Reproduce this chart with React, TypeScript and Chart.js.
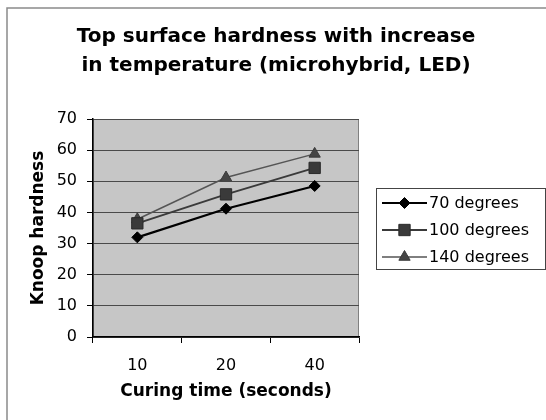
import React, { useEffect, useRef } from "react";
import { Chart, registerables } from "chart.js";
import { drawPoint } from "chart.js/helpers";

Chart.register(...registerables);

const titleLines = ["Top surface hardness with increase", "in temperature (microhybrid, LED)"];
const categories = ["10", "20", "40"];
const yTicks = [0, 10, 20, 30, 40, 50, 60, 70];
const seriesNames = ["70 degrees", "100 degrees", "140 degrees"];
const deg70 = [32.0, 41.2, 48.5];
const deg100 = [36.5, 45.8, 54.3];
const deg140 = [37.8, 51.2, 58.8];
const xTitle = "Curing time (seconds)";
const yTitle = "Knoop hardness";

const FONT = "'DejaVu Sans', Verdana, sans-serif";

const decorPlugin = {
  id: "decor",
  beforeDraw(chart: any) {
    const { ctx, chartArea: a } = chart;
    ctx.save();
    ctx.fillStyle = "#ffffff";
    ctx.fillRect(0, 0, chart.width, chart.height);
    // outer frame
    ctx.strokeStyle = "#8a8a8a";
    ctx.lineWidth = 1.5;
    ctx.strokeRect(7, 8, 700, 700);
    // plot background
    ctx.fillStyle = "#c6c6c6";
    ctx.fillRect(a.left, a.top, a.right - a.left, a.bottom - a.top);
    ctx.strokeStyle = "#808080";
    ctx.lineWidth = 1;
    ctx.strokeRect(a.left + 0.5, a.top + 0.5, a.right - a.left - 1, a.bottom - a.top - 1);
    // title
    ctx.fillStyle = "#000";
    ctx.font = `bold 20px ${FONT}`;
    ctx.textAlign = "center";
    ctx.textBaseline = "alphabetic";
    titleLines.forEach((t, i) => ctx.fillText(t, 276, 42 + i * 28.5));
    ctx.restore();
  },
  afterDraw(chart: any) {
    const { ctx } = chart;
    ctx.save();
    ctx.strokeStyle = "#444";
    ctx.lineWidth = 1;
    ctx.strokeRect(376.5, 188.5, 169, 81);
    chart.data.datasets.forEach((ds: any, i: number) => {
      const y = 203 + i * 27;
      ctx.strokeStyle = ds.borderColor;
      ctx.lineWidth = ds.borderWidth;
      ctx.beginPath();
      ctx.moveTo(382, y);
      ctx.lineTo(427, y);
      ctx.stroke();
      ctx.fillStyle = ds.pointBackgroundColor;
      ctx.strokeStyle = ds.pointBorderColor;
      ctx.lineWidth = 1;
      drawPoint(ctx, { pointStyle: ds.pointStyle, radius: ds.pointRadius, rotation: 0, borderWidth: 1 }, 404.5, y);
      ctx.fillStyle = "#000";
      ctx.font = `16px ${FONT}`;
      ctx.textAlign = "left";
      ctx.textBaseline = "middle";
      ctx.fillText(ds.label, 429, y + 1);
    });
    ctx.restore();
  },
};

export default function App() {
  const ref = useRef<HTMLCanvasElement | null>(null);
  useEffect(() => {
    if (!ref.current) return;
    const chart = new Chart(ref.current, {
      type: "line",
      data: {
        labels: categories,
        datasets: [
          {
            label: seriesNames[0],
            data: deg70,
            borderColor: "#000000",
            borderWidth: 2.2,
            pointStyle: "rectRot",
            pointRadius: 5.5,
            pointBackgroundColor: "#000000",
            pointBorderColor: "#000000",
            pointBorderWidth: 1,
          },
          {
            label: seriesNames[1],
            data: deg100,
            borderColor: "#3a3a3a",
            borderWidth: 2,
            pointStyle: "rect",
            pointRadius: 8,
            pointBackgroundColor: "#3a3a3a",
            pointBorderColor: "#2a2a2a",
            pointBorderWidth: 1,
          },
          {
            label: seriesNames[2],
            data: deg140,
            borderColor: "#555555",
            borderWidth: 1.5,
            pointStyle: "triangle",
            pointRadius: 6.5,
            pointBackgroundColor: "#454545",
            pointBorderColor: "#3a3a3a",
            pointBorderWidth: 1,
          },
        ],
      },
      options: {
        animation: false,
        responsive: false,
        layout: { padding: { left: 20, right: 187, top: 119, bottom: 10 } },
        plugins: {
          legend: { display: false },
          title: { display: false },
          tooltip: { enabled: false },
        },
        scales: {
          x: {
            type: "category",
            offset: true,
            grid: { offset: true, drawOnChartArea: false, drawTicks: true, tickLength: 6, color: "#000" },
            border: { display: true, color: "#000", width: 1.5 },
            ticks: { color: "#000", font: { family: FONT, size: 16 }, padding: 13, maxRotation: 0 },
            title: {
              display: true,
              text: xTitle,
              color: "#000",
              font: { family: FONT, size: 17, weight: "bold" },
              padding: { top: 0, bottom: 8 },
            },
            afterFit: (s: any) => {
              s.height = 73;
            },
          },
          y: {
            min: 0,
            max: 70,
            afterBuildTicks: (s: any) => {
              s.ticks = yTicks.map((v) => ({ value: v }));
            },
            grid: { color: "#4a4a4a", tickColor: "#000", tickLength: 6, lineWidth: 1 },
            border: { display: true, color: "#000", width: 1.5 },
            ticks: { color: "#000", font: { family: FONT, size: 16 }, padding: 10 },
            title: {
              display: true,
              text: yTitle,
              color: "#000",
              font: { family: FONT, size: 17, weight: "bold" },
              padding: { top: 8, bottom: 0 },
            },
            afterFit: (s: any) => {
              s.width = 73;
            },
          },
        },
      } as any,
      plugins: [decorPlugin],
    });
    return () => chart.destroy();
  }, []);
  return (
    <div style={{ position: "absolute", left: 0, top: 0, width: 546, height: 420 }}>
      <canvas ref={ref} width={546} height={420} />
    </div>
  );
}
